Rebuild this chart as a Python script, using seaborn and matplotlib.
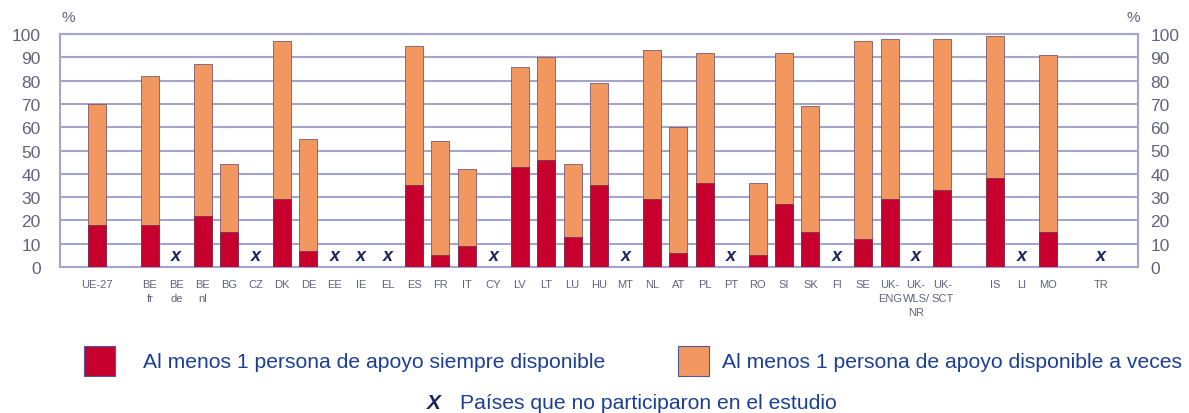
import numpy as np
import pandas as pd
import matplotlib
matplotlib.use("Agg")
import matplotlib.pyplot as plt
import seaborn as sns

# --- data, "" = empty slot, None = did not take part ---
categories = ["UE-27", "", "BE\nfr", "BE\nde", "BE\nnl", "BG", "CZ", "DK", "DE", "EE", "IE", "EL",
              "ES", "FR", "IT", "CY", "LV", "LT", "LU", "HU", "MT", "NL", "AT", "PL", "PT", "RO",
              "SI", "SK", "FI", "SE", "UK-\nENG", "UK-\nWLS/\nNR", "UK-\nSCT", "", "IS", "LI", "MO",
              "", "TR"]
total = [70, None, 82, None, 87, 44, None, 97, 55, None, None, None,
         95, 54, 42, None, 86, 90, 44, 79, None, 93, 60, 92, None, 36,
         92, 69, None, 97, 98, None, 98, None, 99, None, 91,
         None, None]
siempre = [18, None, 18, None, 22, 15, None, 29, 7, None, None, None,
           35, 5, 9, None, 43, 46, 13, 35, None, 29, 6, 36, None, 5,
           27, 15, None, 12, 29, None, 33, None, 38, None, 15,
           None, None]

RED = "#c8002d"
ORANGE = "#f2975f"
GRID = "#a4a4cc"
NAVY = "#1c3f94"
XCOL = "#1a2560"
TICK = "#62627c"

df = pd.DataFrame({"pos": np.arange(len(categories)), "label": categories,
                   "total": pd.to_numeric(pd.Series(total), errors="coerce"),
                   "siempre": pd.to_numeric(pd.Series(siempre), errors="coerce")})
missing = df[(df["label"] != "") & df["total"].isna()]

sns.set_style("white")
plt.rcParams["font.family"] = ["Liberation Sans", "DejaVu Sans"]

fig = plt.figure(figsize=(11.89, 4.14), dpi=100)
ax = fig.add_axes([60 / 1189, 146 / 414, 1078 / 1189, 233 / 414])

bars = df.dropna(subset=["total"])
sns.barplot(data=bars, x="pos", y="total", native_scale=True, width=0.68,
            color=ORANGE, saturation=1, edgecolor="#7a5a70", linewidth=0.6, ax=ax, zorder=3)
sns.barplot(data=bars, x="pos", y="siempre", native_scale=True, width=0.68,
            color=RED, saturation=1, edgecolor="#7a3050", linewidth=0.6, ax=ax, zorder=4)

# non-participating countries
for p in missing["pos"]:
    ax.text(p, 4.8, "x", ha="center", va="center", fontsize=13, fontweight="bold",
            style="italic", color=XCOL, zorder=5)

ax.set_xlim(-1.4, 39.4)
ax.set_ylim(0, 100)
ax.set_yticks(range(0, 101, 10))
ax.yaxis.grid(True, color=GRID, linewidth=1.5, zorder=0)
ax.set_axisbelow(True)
ax.set_xticks(df["pos"])
ax.set_xticklabels(df["label"], fontsize=8.0, color=TICK, linespacing=1.45)
ax.tick_params(axis="x", length=0, pad=9)
ax.tick_params(axis="y", length=0, pad=14, labelsize=12.5, labelcolor=TICK)
ax.set_xlabel("")
ax.set_ylabel("")
for s in ax.spines.values():
    s.set_color(GRID)
    s.set_linewidth(1.5)

ax2 = ax.twinx()
ax2.set_ylim(0, 100)
ax2.set_yticks(range(0, 101, 10))
ax2.tick_params(axis="y", length=0, pad=9, labelsize=12.5, labelcolor=TICK)
for s in ax2.spines.values():
    s.set_visible(False)

fig.text(68 / 1189, 1 - 18 / 414, "%", ha="center", va="center", fontsize=11, color=TICK)
fig.text(1133 / 1189, 1 - 18 / 414, "%", ha="center", va="center", fontsize=11, color=TICK)

# legend
fig.patches.append(plt.Rectangle((84 / 1189, 1 - 377 / 414), 31 / 1189, 30 / 414,
                   transform=fig.transFigure, facecolor=RED, edgecolor="#4a5a9a", linewidth=0.8))
fig.patches.append(plt.Rectangle((678 / 1189, 1 - 377 / 414), 31 / 1189, 30 / 414,
                   transform=fig.transFigure, facecolor=ORANGE, edgecolor="#4a5a9a", linewidth=0.8))
fig.text(143 / 1189, 1 - 363 / 414, "Al menos 1 persona de apoyo siempre disponible",
         ha="left", va="center", fontsize=15.2, color=NAVY)
fig.text(722 / 1189, 1 - 363 / 414, "Al menos 1 persona de apoyo disponible a veces",
         ha="left", va="center", fontsize=15.2, color=NAVY)
fig.text(434 / 1189, 1 - 404 / 414, "X", ha="center", va="center", fontsize=15,
         fontweight="bold", style="italic", color=XCOL)
fig.text(460 / 1189, 1 - 404 / 414, "Países que no participaron en el estudio",
         ha="left", va="center", fontsize=15.2, color=NAVY)

fig.savefig("out.png", dpi=100)
